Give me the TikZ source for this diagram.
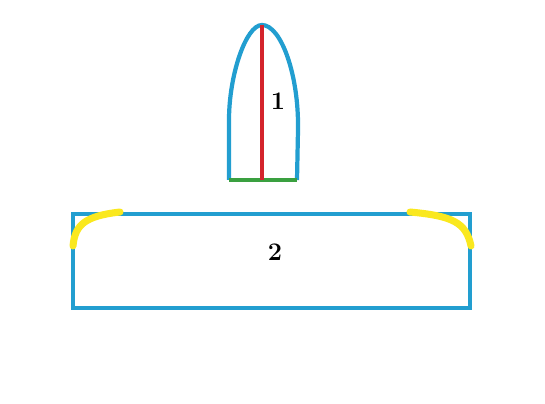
\documentclass[tikz,border=0pt]{standalone}
\usepackage{xcolor}
\usepackage{tikz}
\usetikzlibrary{positioning, calc}

\definecolor{outlineblue}{RGB}{34,158,208}
\definecolor{axisred}{RGB}{212,36,44}
\definecolor{basegreen}{RGB}{58,160,64}
\definecolor{edgeyellow}{RGB}{250,232,30}

\tikzset{
	outline/.style={outlineblue, line width=2.4pt},
	highlight/.style={edgeyellow, line width=4pt, line cap=round},
	partlabel/.style={font=\bfseries\Large}
}

\begin{document}
\begin{tikzpicture}[x=0.02cm, y=-0.02cm]
			
			\useasboundingbox (0,0) rectangle (545,404);
			
			% Part 1 - bullet
			\coordinate (tip) at (262,25);
			\coordinate (baseL) at (229,180);
			\coordinate (baseR) at (297,180);
			\coordinate (baseM) at (262,180);
			\draw[outline] (baseL) -- (229,120) .. controls (229,75) and (246,25) .. (tip)
				.. controls (281,25) and (299,75) .. (298,130) -- (baseR);
			\draw[basegreen, line width=2pt] (baseL) -- (baseR);
			\draw[axisred, line width=2.4pt] (tip) -- (baseM);
			\node[partlabel] (one) at (278,101) {1};
			
			% Part 2 - slab
			\draw[outline] (73,214) rectangle (470,308);
			\node[partlabel] (two) at (275,252) {2};
			
			% Rounded edges - yellow
			\draw[highlight] (73,246) .. controls (75,224) and (86,216) .. (120,212);
			\draw[highlight] (410,212) .. controls (452,216) and (466,222) .. (471,246);
			
		\end{tikzpicture}
\end{document}
